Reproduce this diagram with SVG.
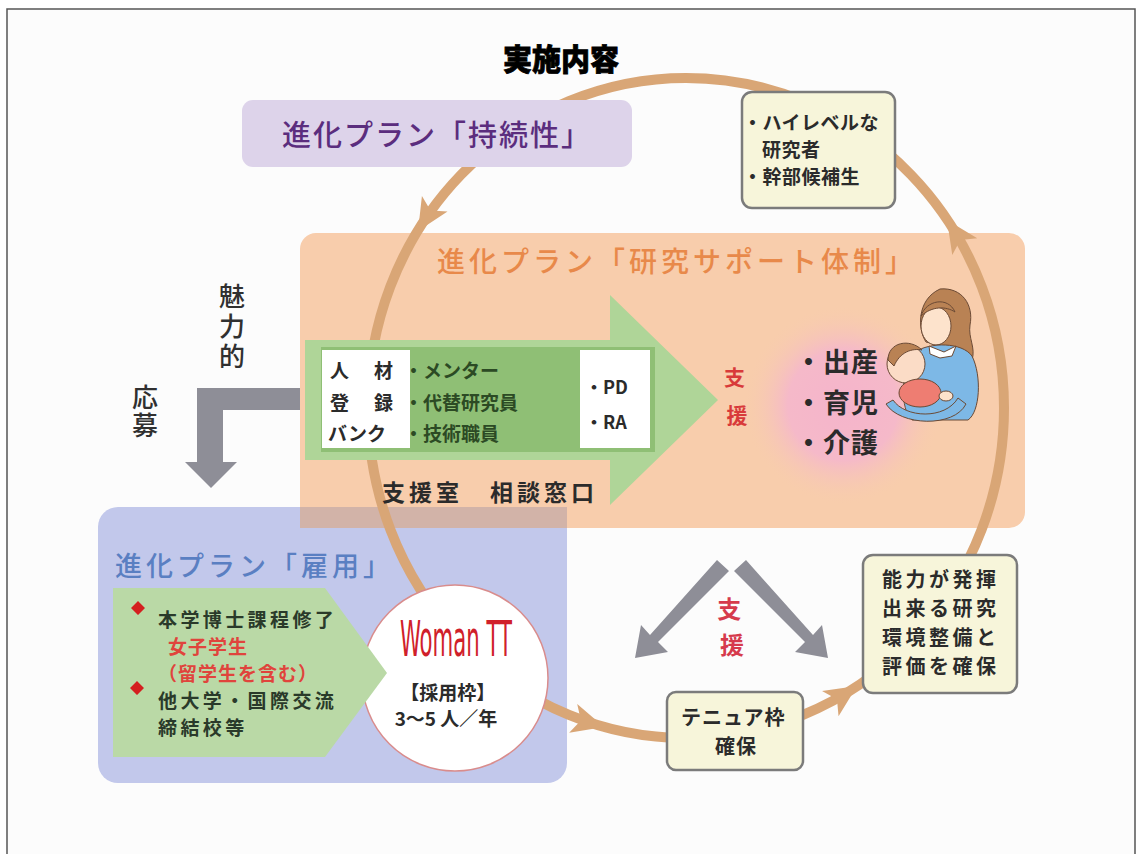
<svg xmlns="http://www.w3.org/2000/svg" width="1136" height="854" viewBox="0 0 1136 854">
  <defs>
    <style>
      .jp { font-family: "Noto Sans CJK JP", "Noto Sans", sans-serif; }
      .dark { fill: #2b2b2b; font-weight: 700; }
      .ttl { font-weight: 500; }
      .cream { fill: #f7f5da; stroke: #7b7b7b; stroke-width: 2.5; }
      .loop { fill: none; stroke: #d9a676; stroke-width: 10; }
      .head { fill: #d9a676; }
      .grey { fill: #8e8e97; }
      .greytxt { fill: #303030; font-weight: 500; }
      .cand { font-size: 19px; letter-spacing: 3.4px; fill: #2a3a2a; }
      .candred { font-size: 19px; letter-spacing: 1px; fill: #e0443c; }
    </style>
    <radialGradient id="glow" cx="0.5" cy="0.5" r="0.5">
      <stop offset="0" stop-color="#f5b4cb"/>
      <stop offset="0.55" stop-color="#f5b9c9"/>
      <stop offset="1" stop-color="#f8cdac" stop-opacity="0"/>
    </radialGradient>
    <path id="barb" d="M0,0 L-32,-15 L-24,0 L-32,15 Z"/>
  </defs>

  <!-- page frame -->
  <rect x="0" y="0" width="1136" height="854" fill="#ffffff"/>
  <rect x="7" y="9" width="1128" height="860" fill="#fcfcfc" stroke="#555555" stroke-width="1.5"/>

  <!-- heading -->
  <text x="561" y="70" text-anchor="middle" class="jp" font-size="30" font-weight="900" fill="#000" stroke="#000" stroke-width="0.8" textLength="116" lengthAdjust="spacingAndGlyphs">実施内容</text>

  <!-- panel: employment plan (blue) -->
  <g id="plan-koyou">
    <rect x="98" y="507" width="469" height="276" rx="20" fill="#c2c8eb"/>
  </g>

  <!-- panel: research support plan (peach) -->
  <g id="plan-support">
    <rect x="300" y="233" width="725" height="295" rx="16" fill="#f8cdac"/>
    <rect x="300" y="507" width="267" height="21" fill="#d2b3a8"/>
    <text x="437" y="272" class="jp ttl" font-size="28" letter-spacing="4" fill="#e8894a">進化プラン「研究サポート体制」</text>
  </g>

  <!-- connectors: cycle loop, its arrowheads and the grey arrows -->
  <g id="connectors">
    <ellipse class="loop" cx="686" cy="408" rx="318" ry="330"/>
    <use href="#barb" class="head" transform="translate(418,231) rotate(121.5)"/>
    <use href="#barb" class="head" transform="translate(604,727) rotate(15.6)"/>
    <use href="#barb" class="head" transform="translate(857,686) rotate(-33.4)"/>
    <use href="#barb" class="head" transform="translate(947,220) rotate(-123.7)"/>
    <!-- elbow arrow toward the employment panel -->
    <path class="grey" d="M300,388 L197,388 L197,462 L185,462 L211,488 L237,462 L223,462 L223,410 L300,410 Z"/>
    <!-- pair of support arrows -->
    <path class="grey" d="M717,560 L729,571 L658,642 L668,652 L635,658 L641,625 L650,635 Z"/>
    <path class="grey" d="M746,560 L734,571 L805,642 L795,652 L828,658 L822,625 L813,635 Z"/>
  </g>

  <!-- sustainability plan label -->
  <g id="plan-jizoku">
    <rect x="242" y="100" width="390" height="67" rx="11" fill="#ddd3ea"/>
    <text x="437" y="146" text-anchor="middle" class="jp ttl" font-size="29" letter-spacing="2" fill="#5b2d7e">進化プラン「持続性」</text>
  </g>

  <!-- outcome box top right -->
  <g id="box-highlevel">
    <rect class="cream" x="742" y="92" width="153" height="116" rx="10"/>
    <text class="jp dark" font-size="19" letter-spacing="0.5">
      <tspan x="743" y="130">・ハイレベルな</tspan>
      <tspan x="762" y="157">研究者</tspan>
      <tspan x="743" y="184">・幹部候補生</tspan>
    </text>
  </g>

  <!-- big green arrow with staffing items -->
  <g id="support-arrow">
    <path d="M305,340 L610,340 L610,295 L718,400 L610,505 L610,460 L305,460 Z" fill="#afd598"/>
    <rect x="321" y="347" width="334" height="105" fill="#8fbf75"/>
    <rect x="322" y="350" width="88" height="98" fill="#ffffff"/>
    <rect x="580" y="350" width="70" height="98" fill="#ffffff"/>
    <text class="jp dark" font-size="19">
      <tspan x="330" y="378">人</tspan><tspan x="374" y="378">材</tspan>
      <tspan x="330" y="410">登</tspan><tspan x="374" y="410">録</tspan>
      <tspan x="328" y="441">バンク</tspan>
    </text>
    <text class="jp" font-size="19" font-weight="700" fill="#2c4a24">
      <tspan x="404" y="378">・メンター</tspan>
      <tspan x="404" y="410">・代替研究員</tspan>
      <tspan x="404" y="441">・技術職員</tspan>
    </text>
    <text class="jp dark" font-size="18">
      <tspan x="585" y="394">・PD</tspan>
      <tspan x="585" y="429">・RA</tspan>
    </text>
    <text x="382" y="501" class="jp dark" font-size="23" letter-spacing="4">支援室　相談窓口</text>
  </g>

  <!-- support label beside arrow -->
  <g id="label-support-1">
    <text class="jp" font-size="21" font-weight="700" text-anchor="middle" fill="#d83a3a">
      <tspan x="737" y="385">支</tspan>
      <tspan x="737" y="423">援</tspan>
    </text>
  </g>

  <!-- life events with glow -->
  <g id="life-events">
    <circle cx="843" cy="405" r="100" fill="url(#glow)"/>
    <text class="jp dark" font-size="27" letter-spacing="1">
      <tspan x="795" y="372">・出産</tspan>
      <tspan x="795" y="413">・育児</tspan>
      <tspan x="795" y="453">・介護</tspan>
    </text>
  </g>

  <!-- mother holding a baby -->
  <g id="mother-baby" stroke="#6b4a35" stroke-width="1">
    <path d="M940,289 C962,287 974,305 970,325 C968,338 976,348 972,360 C964,364 956,356 952,348 L926,342 C918,330 916,300 940,289 Z" fill="#b98254"/>
    <ellipse cx="936" cy="326" rx="15" ry="19" fill="#fde3cc"/>
    <path d="M921,316 C926,300 948,296 955,312 C946,306 932,306 921,316 Z" fill="#b98254"/>
    <path d="M915,352 C930,342 962,342 972,356 C982,376 980,412 968,420 L912,420 C900,410 900,370 915,352 Z" fill="#7db8e6"/>
    <path d="M929,346 L944,352 L956,346 L952,356 L940,358 L930,354 Z" fill="#ffffff"/>
    <circle cx="906" cy="364" r="19" fill="#fbdcc6"/>
    <path d="M888,360 C888,342 910,338 922,350 C912,348 900,352 894,366 Z" fill="#b98254"/>
    <ellipse cx="920" cy="393" rx="21" ry="14" fill="#ee7d72"/>
    <path d="M893,400 C905,418 945,420 958,398 L966,404 C954,428 900,426 886,404 Z" fill="#7db8e6"/>
    <ellipse cx="946" cy="396" rx="7" ry="5" fill="#fde3cc"/>
  </g>

  <!-- employment plan contents -->
  <g id="candidates">
    <text x="115" y="576" class="jp ttl" font-size="27" letter-spacing="4" fill="#5a7fc2">進化プラン「雇用」</text>
    <circle cx="455" cy="678" r="93" fill="#ffffff" stroke="#d98c8c" stroke-width="1.5"/>
    <path d="M113,588 L325,588 L387,673 L325,757 L113,757 Z" fill="#bad9a6"/>
    <path d="M138,601 L145,608 L138,615 L131,608 Z M137,681 L144,688 L137,695 L130,688 Z" fill="#d41f1f"/>
    <text class="jp" font-weight="700">
      <tspan x="158" y="627" class="cand">本学博士課程修了</tspan>
      <tspan x="168" y="654" class="candred" letter-spacing="3">女子学生</tspan>
      <tspan x="158" y="681" class="candred">（留学生を含む）</tspan>
      <tspan x="158" y="708" class="cand">他大学・国際交流</tspan>
      <tspan x="158" y="735" class="cand">締結校等</tspan>
    </text>
  </g>

  <!-- Woman TT hiring slot -->
  <g id="woman-tt">
    <text x="400" y="656" font-family="'Liberation Sans Narrow', 'DejaVu Sans Condensed', 'Liberation Sans', sans-serif" font-size="50" fill="#d0202a" textLength="112" lengthAdjust="spacingAndGlyphs">Woman TT</text>
    <text class="jp dark" font-size="19" text-anchor="middle">
      <tspan x="450" y="700">【採用枠】</tspan>
      <tspan x="446" y="726">3～5 人／年</tspan>
    </text>
  </g>

  <!-- tenure slot -->
  <g id="box-tenure">
    <rect class="cream" x="667" y="692" width="136" height="78" rx="9"/>
    <text class="jp dark" font-size="20" letter-spacing="1" text-anchor="middle">
      <tspan x="736" y="725">テニュア枠</tspan>
      <tspan x="736" y="754">確保</tspan>
    </text>
  </g>

  <!-- environment box -->
  <g id="box-environment">
    <rect class="cream" x="863" y="555" width="154" height="138" rx="10"/>
    <text class="jp dark" font-size="20" letter-spacing="3.5">
      <tspan x="882" y="587">能力が発揮</tspan>
      <tspan x="882" y="616">出来る研究</tspan>
      <tspan x="882" y="645">環境整備と</tspan>
      <tspan x="882" y="674">評価を確保</tspan>
    </text>
  </g>

  <!-- support label between the two arrows -->
  <g id="label-support-2">
    <text class="jp" font-size="24" font-weight="700" text-anchor="middle" fill="#d63a4c">
      <tspan x="732" y="618">支</tspan>
      <tspan x="732" y="654">援</tspan>
    </text>
  </g>

  <!-- side labels of the elbow arrow, set vertically -->
  <g id="label-attractive">
    <text x="232" y="283" writing-mode="vertical-rl" class="jp greytxt" font-size="26" letter-spacing="4">魅力的</text>
  </g>
  <g id="label-apply">
    <text x="145" y="384" writing-mode="vertical-rl" class="jp greytxt" font-size="26" letter-spacing="2">応募</text>
  </g>
</svg>
